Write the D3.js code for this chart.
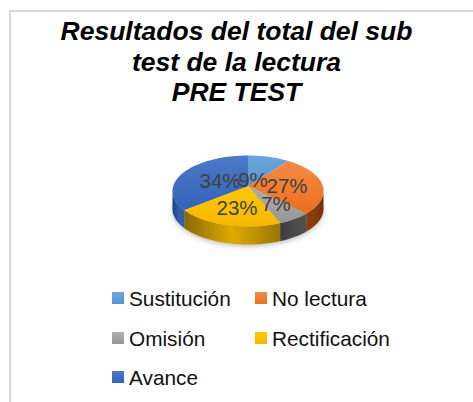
<!DOCTYPE html>
<html>
<head>
<meta charset="utf-8">
<script src="https://cdn.jsdelivr.net/npm/d3@7"></script>
<style>
  body { margin: 0; background: #fff; }
  svg { display: block; font-family: "Liberation Sans", Arial, sans-serif; }
</style>
</head>
<body>
<svg id="chart" width="473" height="402"></svg>
<script>
var categories = ['Sustitución', 'No lectura', 'Omisión', 'Rectificación', 'Avance'];
var values = [9, 27, 7, 23, 34];
var titleLines = ['Resultados del total del sub', 'test de la lectura', 'PRE TEST'];

var topLight = ['#6ba6dd', '#f58a45', '#b0b0b0', '#ffc800', '#4f78c8'];
var topDark = ['#5596d2', '#e9701f', '#959595', '#f5b800', '#3263b8'];
// left, middle, right colour of each slice's side wall
var sideLeft = ['#2a5d8c', '#8a3d0c', '#3a3a3a', '#8a6a00', '#1f3f78'];
var sideMid = ['#4a86c0', '#8a3d0c', '#4a4a4a', '#e0aa00', '#2f5cae'];
var sideRight = ['#4a86c0', '#6b2f08', '#505050', '#9a7600', '#2f5cae'];

var svg = d3.select('#chart');
var defs = svg.append('defs');

// frame
svg.append('path')
  .attr('d', 'M10,402V11H473')
  .attr('fill', 'none')
  .attr('stroke', '#d9d9d9')
  .attr('stroke-width', 2);

svg.append('g').selectAll('text')
  .data(titleLines)
  .enter()
  .append('text')
  .attr('x', 236.5)
  .attr('y', (d, i) => 40 + i * 30.5)
  .attr('text-anchor', 'middle')
  .attr('font-size', 26.5)
  .attr('font-weight', 'bold')
  .attr('font-style', 'italic')
  .attr('fill', '#000')
  .text(d => d);

// pie
var cx = 248, cy = 191, rx = 75.5, ry = 35.5, depth = 18;
var apex = [248, 186];

function px(a) { return cx + rx * Math.sin(a); }
function py(a) { return cy - ry * Math.cos(a); }

var arcs = d3.pie().sort(null)(values);
var line = d3.line();

defs.append('filter').attr('id', 'blur')
  .append('feGaussianBlur').attr('stdDeviation', 2.5);

svg.append('ellipse')
  .attr('cx', cx)
  .attr('cy', cy + depth + 2)
  .attr('rx', rx)
  .attr('ry', ry)
  .attr('fill', '#8a8a8a')
  .attr('opacity', 0.55)
  .attr('filter', 'url(#blur)');

arcs.forEach(function (d, i) {
  var grad = defs.append('linearGradient')
    .attr('id', 'top' + i)
    .attr('x1', 0).attr('y1', 0).attr('x2', 0).attr('y2', 1);
  grad.append('stop').attr('offset', 0).attr('stop-color', topLight[i]);
  grad.append('stop').attr('offset', 1).attr('stop-color', topDark[i]);

  var side = defs.append('linearGradient').attr('id', 'side' + i);
  side.append('stop').attr('offset', 0).attr('stop-color', sideLeft[i]);
  side.append('stop').attr('offset', 0.5).attr('stop-color', sideMid[i]);
  side.append('stop').attr('offset', 1).attr('stop-color', sideRight[i]);
});

function sample(a0, a1) {
  var n = Math.max(2, Math.ceil((a1 - a0) / 0.03));
  return d3.range(n + 1).map(j => a0 + (a1 - a0) * j / n);
}

// side walls, only the front half is visible
arcs.forEach(function (d, i) {
  var a0 = Math.max(d.startAngle, Math.PI / 2);
  var a1 = Math.min(d.endAngle, Math.PI * 1.5);
  if (a1 <= a0) return;
  var angles = sample(a0, a1);
  var pts = angles.map(a => [px(a), py(a)])
    .concat(angles.slice().reverse().map(a => [px(a), py(a) + depth]));
  svg.append('path')
    .attr('d', line(pts) + 'Z')
    .attr('fill', 'url(#side' + i + ')');
});

// top faces
arcs.forEach(function (d, i) {
  var pts = [apex].concat(sample(d.startAngle, d.endAngle).map(a => [px(a), py(a)]));
  svg.append('path')
    .attr('d', line(pts) + 'Z')
    .attr('fill', 'url(#top' + i + ')');
});

// label anchors as placed by the chart, not derived from the slices
var labelAnchor = [[253, 187], [287, 193], [276, 211], [237, 215], [220, 188]];
svg.append('g').selectAll('text')
  .data(values)
  .enter()
  .append('text')
  .attr('x', (d, i) => labelAnchor[i][0])
  .attr('y', (d, i) => labelAnchor[i][1])
  .attr('text-anchor', 'middle')
  .attr('font-size', 20.5)
  .attr('fill', '#404040')
  .text(d => d + '%');

// legend
var legendCols = [112, 255];
var legendRows = [298, 338, 377];
var legend = svg.append('g').selectAll('g')
  .data(categories)
  .enter()
  .append('g')
  .attr('transform', (d, i) => 'translate(' + legendCols[i % 2] + ',' + legendRows[Math.floor(i / 2)] + ')');

legend.append('rect')
  .attr('x', 0)
  .attr('y', -6)
  .attr('width', 12)
  .attr('height', 12)
  .attr('fill', (d, i) => 'url(#top' + i + ')');

legend.append('text')
  .attr('x', 17)
  .attr('y', 8)
  .attr('font-size', 20.8)
  .attr('fill', '#111')
  .text(d => d);
</script>
</body>
</html>
